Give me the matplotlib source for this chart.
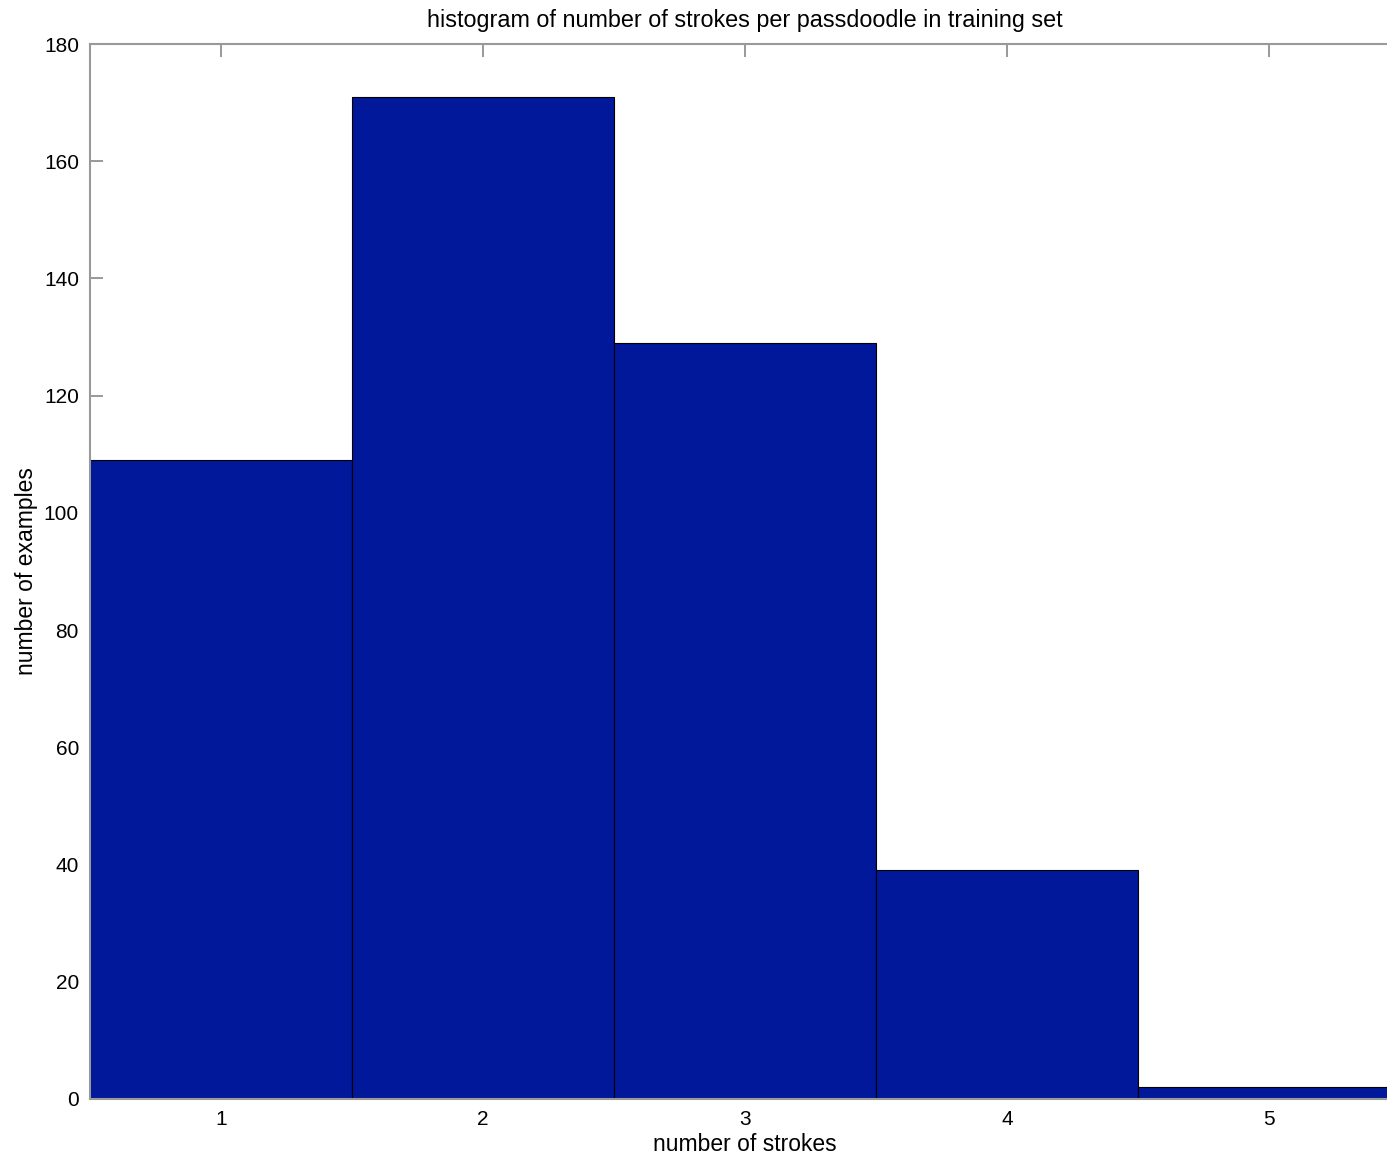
import matplotlib
matplotlib.use('Agg')
from matplotlib import pyplot as plt

# Dados do histograma
strokes = [1, 2, 3, 4, 5]
counts = [109, 171, 129, 39, 2]
y_ticks = [0, 20, 40, 60, 80, 100, 120, 140, 160, 180]

plt.rcParams['font.family'] = ['Liberation Sans', 'DejaVu Sans']

fig = plt.figure(figsize=(13.87, 11.59), dpi=100)
ax = fig.add_axes([90 / 1387, 60 / 1159, 1310 / 1387, 1055 / 1159])

ax.bar(strokes, counts, width=1.0, color='#01189a', edgecolor='#000000', linewidth=0.8)

ax.set_xlim(0.5, 5.5)
ax.set_ylim(0, 180)
ax.set_xticks(strokes)
ax.set_yticks(y_ticks)
ax.set_axisbelow(True)

for s in ax.spines.values():
    s.set_color('#999999')
    s.set_linewidth(1.5)

ax.tick_params(axis='both', direction='in', length=9, width=1.2, color='#888888',
               labelsize=15, top=True, right=True, pad=8)

ax.set_title('histogram of number of strokes per passdoodle in training set', fontsize=16.8, pad=12)
ax.set_xlabel('number of strokes', fontsize=16.5, labelpad=3)
ax.set_ylabel('number of examples', fontsize=16.5, labelpad=4)

fig.savefig('out.png', dpi=100)
